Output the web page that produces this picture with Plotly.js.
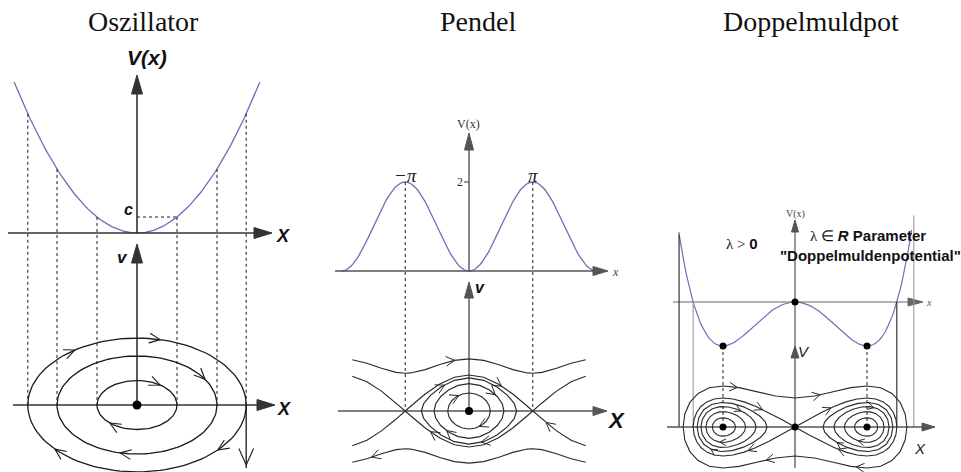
<!DOCTYPE html>
<html>
<head>
<meta charset="utf-8">
<script src="https://cdn.plot.ly/plotly-3.0.1.min.js"></script>
<style>html,body{margin:0;padding:0;background:#fff}#plot{width:961px;height:472px}</style>
</head>
<body>
<div id="plot"></div>
<script>
// ---------------- values ----------------
const titles = ['Oszillator', 'Pendel', 'Doppelmuldpot'];

// harmonic oscillator, V(x) = x^2
const oscAmplitudes = [1.0, 2.0, 2.73];      // orbit amplitudes (also dashed guides)
const oscLevelC = 1.0;                        // level "c"
const oscPotRange = [-3.07, 3.07];

// pendulum, V(x) = 1 - cos x
const penLibrationEnergies = [0.5, 1.15, 1.7];
const penSeparatrixEnergy = 2;
const penRotationEnergy = 4.2;
const penPotRange = [-2 * Math.PI, 2 * Math.PI];
const penPhaseRange = [-5.75, 5.75];
const penPeakX = [-Math.PI, Math.PI];
const penPeakLabels = ['\u2212\u03c0', '\u03c0'];
const penTickV = [2];

// double well, V(x) = x^4 - 2x^2
const dwCenterEnergies = [-0.9, -0.72, -0.5, -0.28];
const dwSeparatrixEnergy = 0;
const dwOuterEnergy = 1.0;
const dwPotRange = [-1.615, 1.62];
const dwGuideX = [-1.61, -Math.SQRT2, Math.SQRT2, 1.65];

// ---------------- geometry / style ----------------
const W = 961, H = 472;
const panels = {
  osc: {ox: 137, sx: 40,   pot: {oy: 233, s: 16},   ph: {oy: 405, s: 24.5}, xa: 'x',  ya: 'y',  yb: 'y2'},
  pen: {ox: 469, sx: 20.3, pot: {oy: 271, s: 44.5}, ph: {oy: 411, s: 18},   xa: 'x2', ya: 'y3', yb: 'y4'},
  dw:  {ox: 795, sx: 72,   pot: {oy: 302, s: 44},   ph: {oy: 427, s: 20.5}, xa: 'x3', ya: 'y5', yb: 'y6'}
};
const POT_COLOR = '#6f6db6';
const INK = '#1a1a1a';
const SANS = 'Liberation Sans, Arial, sans-serif';
const SERIF = 'Liberation Serif, Times New Roman, serif';

function frame(p, part) {
  const f = p[part];
  return {
    xa: p.xa, ya: part === 'pot' ? p.ya : p.yb,
    toPx: (x, y) => [p.ox + x * p.sx, f.oy - y * f.s],
    fromPx: (X, Y) => [(X - p.ox) / p.sx, (f.oy - Y) / f.s]
  };
}
const traces = [], annotations = [];
function add(fr, xs, ys, line, extra) {
  traces.push(Object.assign({type: 'scatter', mode: 'lines', x: xs, y: ys,
    xaxis: fr.xa, yaxis: fr.ya, line: line, hoverinfo: 'skip', showlegend: false}, extra || {}));
}
function dots(fr, xs, ys, size) {
  traces.push({type: 'scatter', mode: 'markers', x: xs, y: ys, xaxis: fr.xa, yaxis: fr.ya,
    marker: {color: '#000', size: size}, hoverinfo: 'skip', showlegend: false});
}
function linspace(a, b, n) { const r = []; for (let i = 0; i < n; i++) r.push(a + (b - a) * i / (n - 1)); return r; }

// filled arrow head with its tip at (x, y); dir is a pixel direction
function head(fr, x, y, dir, len, hw, color) {
  const t = fr.toPx(x, y);
  const bx = t[0] - dir[0] * len, by = t[1] - dir[1] * len;
  const pts = [t, [bx - dir[1] * hw, by + dir[0] * hw], [bx + dir[1] * hw, by - dir[0] * hw], t]
    .map(p => fr.fromPx(p[0], p[1]));
  add(fr, pts.map(p => p[0]), pts.map(p => p[1]), {color: color, width: 1}, {fill: 'toself', fillcolor: color});
}
function axisH(fr, X0, X1, color, width, hl, hw) {
  add(fr, [fr.fromPx(X0, 0)[0], fr.fromPx(X1 - hl * 0.7, 0)[0]], [0, 0], {color: color, width: width});
  head(fr, fr.fromPx(X1, 0)[0], 0, [1, 0], hl, hw, color);
}
function axisV(fr, Y0, Y1, color, width, hl, hw) {
  add(fr, [0, 0], [fr.fromPx(0, Y0)[1], fr.fromPx(0, Y1 + hl * 0.7)[1]], {color: color, width: width});
  head(fr, 0, fr.fromPx(0, Y1)[1], [0, -1], hl, hw, color);
}
// open chevron at pixel point t pointing along pixel direction d
function chev(fr, t, d, len, ang, acc) {
  const pts = [];
  [1, -1].forEach(s => {
    const c = Math.cos(ang), sn = Math.sin(ang) * s;
    pts.push([t[0] - (d[0] * c - d[1] * sn) * len, t[1] - (d[0] * sn + d[1] * c) * len]);
  });
  [pts[0], t, pts[1]].forEach(p => { const q = fr.fromPx(p[0], p[1]); acc.x.push(q[0]); acc.y.push(q[1]); });
  acc.x.push(null); acc.y.push(null);
}
// arrow on a polyline where it crosses x = xT on the branch with sign(v) = sign
function arrowAt(fr, xs, ys, xT, sign, acc, len, ang) {
  for (let i = 0; i < xs.length - 1; i++) {
    const x0 = xs[i], x1 = xs[i + 1], vm = (ys[i] + ys[i + 1]) / 2;
    if (vm * sign <= 0 || x0 === x1) continue;
    if ((x0 - xT) * (x1 - xT) <= 0) {
      const u = (xT - x0) / (x1 - x0);
      const a = fr.toPx(x0, ys[i]), b = fr.toPx(x1, ys[i + 1]);
      const t = [a[0] + (b[0] - a[0]) * u, a[1] + (b[1] - a[1]) * u];
      let dx = b[0] - a[0], dy = b[1] - a[1]; const L = Math.hypot(dx, dy);
      chev(fr, t, [dx / L, dy / L], len || 10, ang || 0.5, acc);
      return;
    }
  }
}
function label(fr, X, Y, text, font, extra) {
  const q = fr.fromPx(X, Y);
  annotations.push(Object.assign({xref: fr.xa, yref: fr.ya, x: q[0], y: q[1], text: text,
    showarrow: false, font: font, xanchor: 'center', yanchor: 'middle'}, extra || {}));
}
const dashed = {color: INK, width: 1, dash: '3px,3px'};

// ---------------- Oszillator ----------------
(function () {
  const pot = frame(panels.osc, 'pot'), ph = frame(panels.osc, 'ph');
  const V = x => x * x;
  oscAmplitudes.forEach(a => [-a, a].forEach(x => {
    const top = ph.fromPx(...pot.toPx(x, V(x)));
    add(ph, [x, x], [top[1], 0], dashed);
  }));
  add(pot, [0, Math.sqrt(oscLevelC)], [oscLevelC, oscLevelC], dashed);
  const xs = linspace(oscPotRange[0], oscPotRange[1], 121);
  add(pot, xs, xs.map(V), {color: POT_COLOR, width: 1.3});
  axisH(pot, 8, 272, '#333', 1.6, 18, 5.5);
  axisV(pot, 233, 75, '#333', 1.6, 19, 5.5);
  axisH(ph, 13, 275, '#333', 1.6, 18, 5.5);
  axisV(ph, 405, 244, '#333', 1.6, 19, 5.5);

  const acc = {x: [], y: []};
  const arrowPlan = [[[0.58, 1], [-1.55, 1], [-2.05, -1], [2.02, -1]], [[1.7, 1], [-0.42, -1]], [[0.58, 1], [-0.68, -1]]];
  oscAmplitudes.slice().reverse().forEach((a, k) => {
    const t = linspace(0, 2 * Math.PI, 121);
    const ex = t.map(u => -a * Math.cos(u)), ev = t.map(u => a * Math.sin(u));
    add(ph, ex, ev, {color: INK, width: 1.3});
    arrowPlan[k].forEach(p => arrowAt(ph, ex, ev, p[0], p[1], acc, 12, 0.42));
  });
  // outgoing velocity at the right turning point
  const aMax = Math.max(...oscAmplitudes);
  const tip = ph.fromPx(ph.toPx(aMax, 0)[0], 465)[1];
  add(ph, [aMax, aMax], [0, ph.fromPx(0, 468)[1]], {color: INK, width: 1.3});
  chev(ph, ph.toPx(aMax, tip), [0, 1], 18, 0.42, acc);
  add(ph, acc.x, acc.y, {color: INK, width: 1.1});
  dots(ph, [0], [0], 9);

  const f = s => ({family: SANS, size: s, color: '#111'});
  label(pot, 147, 57, '<b><i>V(x)</i></b>', f(21));
  label(pot, 128, 209, '<b><i>c</i></b>', f(16));
  label(pot, 283, 236, '<b><i>X</i></b>', f(18));
  label(ph, 122, 257, '<b><i>v</i></b>', f(17));
  label(ph, 284, 409, '<b><i>X</i></b>', f(18));
})();

// ---------------- Pendel ----------------
(function () {
  const pot = frame(panels.pen, 'pot'), ph = frame(panels.pen, 'ph');
  const V = x => 1 - Math.cos(x);
  penPeakX.forEach(x => {
    const top = ph.fromPx(...pot.toPx(x, V(x)));
    add(ph, [x, x], [top[1], 0], dashed);
  });
  const xs = linspace(penPotRange[0], penPotRange[1], 161);
  add(pot, xs, xs.map(V), {color: POT_COLOR, width: 1.3});
  axisH(pot, 335, 608, '#555', 1.4, 15, 4.5);
  axisV(pot, 271, 133, '#555', 1.4, 17, 4.5);
  penTickV.forEach(v => add(pot, [pot.fromPx(464, 0)[0], 0], [v, v], {color: '#555', width: 1.2}));
  axisH(ph, 338, 607, '#555', 1.4, 14, 4.5);
  axisV(ph, 411, 282, '#555', 1.4, 16, 4.5);

  const acc = {x: [], y: []};
  const line = {color: '#2a2a2a', width: 1.15};
  // open branches (rotation and separatrix), upper flows right, lower flows left
  function open(E, sign) {
    let g = linspace(penPhaseRange[0], penPhaseRange[1], 17).concat(penPeakX).sort((a, b) => a - b);
    if (sign < 0) g = g.reverse();
    return [g, g.map(x => sign * Math.sqrt(Math.max(0, 2 * (E - 1 + Math.cos(x)))))];
  }
  const rotU = open(penRotationEnergy, 1), rotL = open(penRotationEnergy, -1);
  const sepU = open(penSeparatrixEnergy, 1), sepL = open(penSeparatrixEnergy, -1);
  [rotU, rotL, sepU, sepL].forEach(c => add(ph, c[0], c[1], line));
  arrowAt(ph, rotU[0], rotU[1], -0.7, 1, acc);
  arrowAt(ph, rotL[0], rotL[1], -4.8, -1, acc);
  arrowAt(ph, sepU[0], sepU[1], 1.6, 1, acc);
  arrowAt(ph, sepL[0], sepL[1], 3.8, -1, acc);
  arrowAt(ph, sepL[0], sepL[1], -1.9, -1, acc);
  // closed librations
  const plan = [[[-0.5, 1], [0.5, -1]], [[1.3, 1], [-1.1, -1]], [[-1.2, 1], [0.6, -1]]];
  penLibrationEnergies.forEach((E, k) => {
    const a = Math.acos(1 - E);
    const t = linspace(0, 2 * Math.PI, 21);
    const cx = t.map(u => -a * Math.cos(u));
    const cv = t.map((u, i) => (Math.sin(u) >= 0 ? 1 : -1) * Math.sqrt(Math.max(0, 2 * (Math.cos(cx[i]) - Math.cos(a)))));
    add(ph, cx, cv, line);
    plan[k].forEach(p => arrowAt(ph, cx, cv, p[0], p[1], acc));
  });
  add(ph, acc.x, acc.y, {color: '#2a2a2a', width: 1});
  dots(ph, [0], [0], 8);

  label(pot, 468, 124, 'V(x)', {family: SERIF, size: 12, color: '#333'});
  penTickV.forEach(v => label(pot, 460, pot.toPx(0, v)[1], String(v), {family: SERIF, size: 12, color: '#333'}));
  penPeakX.forEach((x, i) => label(pot, pot.toPx(x, 0)[0], 175, '<i>' + penPeakLabels[i] + '</i>', {family: SERIF, size: 19, color: '#222'}));
  label(pot, 615, 272, '<i>x</i>', {family: SERIF, size: 12, color: '#444'});
  label(ph, 480, 287, '<b><i>v</i></b>', {family: SANS, size: 16, color: '#111'});
  label(ph, 616, 420, '<b><i>X</i></b>', {family: SANS, size: 22, color: '#111'});
})();

// ---------------- Doppelmuldpot ----------------
(function () {
  const pot = frame(panels.dw, 'pot'), ph = frame(panels.dw, 'ph');
  const V = x => x ** 4 - 2 * x ** 2;
  const guideColors = ['#222', '#999', '#222', '#999'];
  dwGuideX.forEach((x, i) => {
    const top = ph.fromPx(...pot.toPx(x, Math.max(0, V(x))));
    add(ph, [x, x], [top[1], 0], {color: guideColors[i], width: 1.1});
  });
  [-1, 1].forEach(x => {
    const top = ph.fromPx(...pot.toPx(x, V(x)));
    add(ph, [x, x], [top[1], 0], dashed);
  });
  const xs = linspace(dwPotRange[0], dwPotRange[1], 121);
  add(pot, xs, xs.map(V), {color: POT_COLOR, width: 1.2});
  axisH(pot, 673, 923, '#666', 1.2, 15, 4);
  axisV(pot, 352, 220, '#555', 1.2, 12, 3.5);
  axisH(ph, 667, 935, '#555', 1.3, 13, 4);
  axisV(ph, 468, 346, '#555', 1.3, 12, 4);

  const acc = {x: [], y: []};
  const line = {color: '#2a2a2a', width: 1.1};
  const vOf = (E, x) => Math.sqrt(Math.max(0, 2 * (E - V(x))));
  // separatrix lobes
  const phi = linspace(0, Math.PI, 25);
  const rx = phi.map(u => Math.SQRT2 * Math.sin(u)), rv = phi.map((u, i) => (u < Math.PI / 2 ? 1 : -1) * vOf(dwSeparatrixEnergy, rx[i]));
  const lx = rx.map(x => -x), lv = rv.map(v => -v);
  add(ph, rx, rv, line); add(ph, lx, lv, line);
  arrowAt(ph, rx, rv, 0.5, 1, acc, 9); arrowAt(ph, rx, rv, 0.6, -1, acc, 9);
  arrowAt(ph, lx, lv, -0.45, 1, acc, 9); arrowAt(ph, lx, lv, -0.65, -1, acc, 9);
  // orbit around both wells
  const xm = Math.sqrt(1 + Math.sqrt(1 + dwOuterEnergy));
  const t = linspace(0, 2 * Math.PI, 37);
  const ox = t.map(u => -xm * Math.cos(u)), ov = t.map((u, i) => (Math.sin(u) >= 0 ? 1 : -1) * vOf(dwOuterEnergy, ox[i]));
  add(ph, ox, ov, line);
  [[-0.8, 1], [0.35, 1], [-0.4, -1], [0.85, -1]].forEach(p => arrowAt(ph, ox, ov, p[0], p[1], acc, 9));
  // orbits inside each well
  const plan = [[0.05, 1], [-0.1, -1], [0.15, 1], [-0.2, -1]];
  dwCenterEnergies.forEach((E, k) => {
    const x1 = Math.sqrt(1 - Math.sqrt(1 + E)), x2 = Math.sqrt(1 + Math.sqrt(1 + E));
    [-1, 1].forEach(side => {
      const m = side * (x1 + x2) / 2, r = (x2 - x1) / 2;
      const tt = linspace(0, 2 * Math.PI, 21);
      const cx = tt.map(u => m - r * Math.cos(u));
      const cv = tt.map((u, i) => (Math.sin(u) >= 0 ? 1 : -1) * vOf(E, cx[i]));
      add(ph, cx, cv, line);
      if (k >= 1) arrowAt(ph, cx, cv, m + plan[k][0] * r * 3, plan[k][1], acc, 7);
    });
  });
  add(ph, acc.x, acc.y, {color: '#2a2a2a', width: 1});
  dots(pot, [0, -1, 1], [0, V(-1), V(1)], 7);
  dots(ph, [-1, 0, 1], [0, 0, 0], 7);

  label(pot, 795, 214, 'V(x)', {family: SERIF, size: 10, color: '#444'});
  label(pot, 929, 302, '<i>x</i>', {family: SERIF, size: 10, color: '#555'});
  label(pot, 742, 243, "<span style='font-family:Liberation Serif'>\u03bb &gt; </span><b>0</b>", {family: SANS, size: 15, color: '#111'});
  label(pot, 868, 235, "<span style='font-family:Liberation Serif'>\u03bb \u2208 </span><b><i>R</i> Parameter</b>", {family: SANS, size: 15, color: '#111'});
  label(pot, 870, 255, '<b>"Doppelmuldenpotential"</b>', {family: SANS, size: 15, color: '#111'});
  label(ph, 804, 351, '<i>V</i>', {family: SANS, size: 15, color: '#222'});
  label(ph, 920, 448, '<i>X</i>', {family: SANS, size: 15, color: '#222'});
})();

// ---------------- titles ----------------
const titleCenters = [143, 478, 811];
titles.forEach((t, i) => annotations.push({xref: 'paper', yref: 'paper', x: titleCenters[i] / W, y: 1 - 22 / H,
  text: t, showarrow: false, xanchor: 'center', yanchor: 'middle', font: {family: SERIF, size: 28, color: '#111'}}));

// ---------------- layout ----------------
function xax(p, over) { return Object.assign({range: [-p.ox / p.sx, (W - p.ox) / p.sx], visible: false, fixedrange: true, domain: [0, 1]}, over ? {overlaying: 'x'} : {}); }
function yax(f, over) { return Object.assign({range: [(f.oy - H) / f.s, f.oy / f.s], visible: false, fixedrange: true, domain: [0, 1]}, over ? {overlaying: 'y'} : {}); }
const layout = {
  width: W, height: H, margin: {l: 0, r: 0, t: 0, b: 0},
  paper_bgcolor: '#fff', plot_bgcolor: '#fff', showlegend: false,
  xaxis: xax(panels.osc), xaxis2: xax(panels.pen, true), xaxis3: xax(panels.dw, true),
  yaxis: yax(panels.osc.pot), yaxis2: yax(panels.osc.ph, true),
  yaxis3: yax(panels.pen.pot, true), yaxis4: yax(panels.pen.ph, true),
  yaxis5: yax(panels.dw.pot, true), yaxis6: yax(panels.dw.ph, true),
  annotations: annotations
};
Plotly.newPlot('plot', traces, layout, {staticPlot: true, displayModeBar: false});
</script>
</body>
</html>
